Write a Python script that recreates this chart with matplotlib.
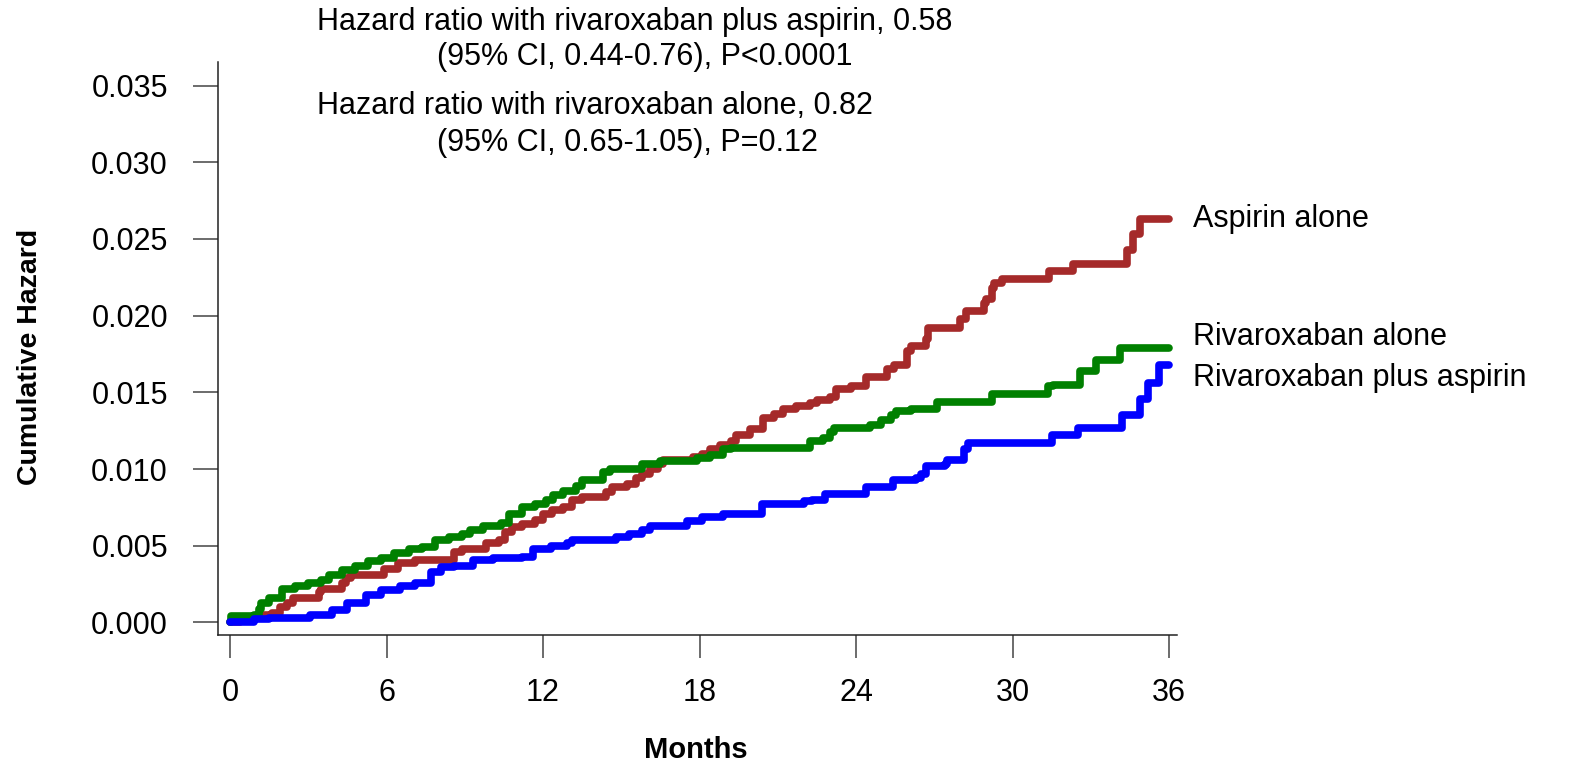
import matplotlib
matplotlib.use("Agg")
import matplotlib.pyplot as plt
import numpy as np

plt.rcParams['font.family'] = ['Liberation Sans', 'DejaVu Sans']

# cumulative hazard step curves, months vs hazard
riva_asp_t = [0, 0.9, 1.5, 3.05, 3.9, 4.5, 5.2, 5.8, 6.5, 7.1,
              7.7, 8.1, 8.6, 9.3, 10.1, 11.2, 11.6, 12.3, 12.9, 13.1,
              14.8, 15.3, 15.8, 16.1, 17.5, 18.1, 18.9, 20.4, 22.0, 22.3,
              22.8, 24.4, 25.4, 26.3, 26.5, 26.7, 27.4, 27.5, 28.15, 28.3,
              31.5, 32.5, 34.2, 34.9, 35.2, 35.6, 36.0]
riva_asp_h = [0, .0002, .0003, .0005, .0008, .0013, .0018, .0021, .0024, .0026,
              .0033, .0036, .0037, .0041, .0042, .0043, .0048, .0050, .0052, .0054,
              .0056, .0058, .0060, .0063, .0066, .0069, .0071, .0077, .0079, .0080,
              .0084, .0088, .0093, .0094, .0097, .0102, .0103, .0106, .0113, .0117,
              .0122, .0127, .0135, .0146, .0156, .0168, .0168]

riva_t = [0, 0.05, 0.9, 1.1, 1.2, 1.5, 2.0, 2.5, 3.0, 3.5,
          3.8, 4.3, 4.8, 5.3, 5.8, 6.3, 6.85, 7.35, 7.85, 8.4,
          8.9, 9.2, 9.7, 10.4, 10.7, 11.2, 11.7, 12.1, 12.4, 12.75,
          13.25, 13.5, 14.3, 14.55, 15.8, 16.5, 17.9, 18.4, 18.9, 19.2,
          22.25, 22.75, 23.0, 23.15, 24.55, 24.95, 25.35, 25.55, 26.1, 27.1,
          29.2, 31.35, 31.55, 32.6, 33.2, 34.1, 36.0]
riva_h = [0, .0004, .0005, .00085, .0013, .0016, .0022, .0024, .0026, .0028,
          .0031, .0034, .0037, .0040, .0042, .0045, .0048, .0049, .0054, .0056,
          .0058, .0060, .0063, .0065, .0071, .0075, .0077, .0080, .0083, .0086,
          .0089, .0093, .0098, .0100, .0103, .0105, .0107, .0109, .0113, .0114,
          .0118, .0120, .0124, .0127, .0129, .0132, .0135, .0138, .0139, .0144,
          .0149, .0154, .0155, .0164, .0171, .0179, .0179]

asp_t = [0, 0.4, 0.8, 1.2, 1.6, 1.9, 2.2, 2.4, 3.4, 3.5,
         4.3, 4.45, 4.65, 5.9, 6.45, 7.1, 8.6, 8.9, 9.8, 10.3,
         10.55, 10.8, 11.2, 11.7, 12.0, 12.35, 12.75, 13.1, 13.5, 14.4,
         14.65, 15.2, 15.55, 15.8, 16.1, 16.4, 16.6, 17.75, 18.1, 18.4,
         18.8, 19.2, 19.4, 19.95, 20.45, 20.85, 21.2, 21.7, 22.25, 22.5,
         23.0, 23.25, 23.8, 24.4, 25.2, 25.45, 25.95, 26.1, 26.7, 26.75,
         28.0, 28.2, 28.9, 29.0, 29.2, 29.3, 29.6, 31.4, 32.3, 34.4,
         34.6, 34.9, 36.0]
asp_h = [0, .00013, .0003, .00046, .00065, .0010, .0013, .0016, .0020, .0022,
         .0026, .0029, .0031, .0035, .0039, .0041, .0046, .0048, .0052, .0054,
         .0059, .0062, .0064, .0067, .0071, .0073, .0075, .0080, .0082, .0085,
         .0088, .0090, .0094, .0097, .0100, .0103, .0106, .0108, .0110, .0113,
         .0116, .0118, .0122, .0126, .0133, .0136, .0139, .0141, .0143, .0145,
         .0147, .0152, .0154, .0160, .0165, .0168, .0177, .0180, .0185, .0192,
         .0198, .0203, .0208, .0211, .0218, .0221, .0224, .0229, .0234, .0243,
         .0253, .0263, .0263]

x_ticks = [0, 6, 12, 18, 24, 30, 36]
y_ticks = [0.000, 0.005, 0.010, 0.015, 0.020, 0.025, 0.030, 0.035]

series = [
    ("Aspirin alone", asp_t, asp_h, "#A52A2A", 0.7128),
    ("Rivaroxaban alone", riva_t, riva_h, "#008000", 0.5573),
    ("Rivaroxaban plus aspirin", riva_asp_t, riva_asp_h, "#0000FF", 0.5033),
]

#%%
fig = plt.figure(figsize=(15.75, 7.62), dpi=100)
ax = fig.add_axes([0.1384, 0.1673, 0.7474 - 0.1384, 0.9183 - 0.1673])

for name, t, h, col, ylab in series:
    ax.step(t, h, where='post', color=col, lw=5.5, solid_capstyle='round',
            solid_joinstyle='round')
    fig.text(0.7577, ylab, name, fontsize=22, va='center', ha='left')

ax.set_xlim(-0.462, 36.31)
ax.set_ylim(-0.000785, 0.03652)
ax.set_xticks(x_ticks)
ax.set_xticklabels([str(v) for v in x_ticks])
ax.set_yticks(y_ticks)
ax.set_yticklabels(["%.3f" % v for v in y_ticks])

for s in ['top', 'right']:
    ax.spines[s].set_visible(False)
for s in ['left', 'bottom']:
    ax.spines[s].set_linewidth(1.1)
    ax.spines[s].set_color('#222222')

ax.tick_params(axis='y', length=18, width=1.1, color='#444444', pad=18, labelsize=22)
ax.tick_params(axis='x', length=16.5, width=1.1, color='#444444', pad=15, labelsize=22)

fig.text(0.0191, 0.531, "Cumulative Hazard", rotation=90, fontsize=20.5,
         fontweight='bold', ha='center', va='center')
fig.text(0.442, 0.016, "Months", fontsize=21, fontweight='bold',
         ha='center', va='center')

# hazard ratio annotations
fig.text(0.2015, 0.971, "Hazard ratio with rivaroxaban plus aspirin, 0.58",
         fontsize=22, ha='left', va='center')
fig.text(0.2774, 0.9249, "(95% CI, 0.44-0.76), P<0.0001",
         fontsize=22, ha='left', va='center')
fig.text(0.2015, 0.8603, "Hazard ratio with rivaroxaban alone, 0.82",
         fontsize=22, ha='left', va='center')
fig.text(0.2774, 0.8129, "(95% CI, 0.65-1.05), P=0.12",
         fontsize=22, ha='left', va='center')

fig.savefig("out.png", dpi=100)
